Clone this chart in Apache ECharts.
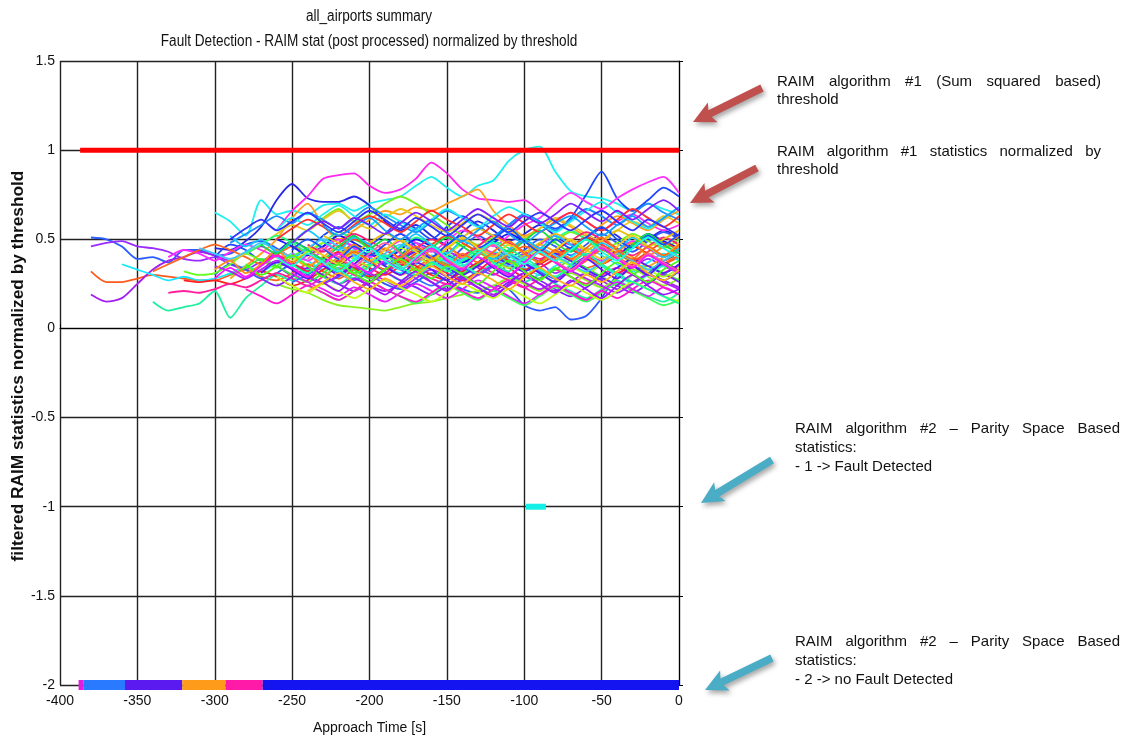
<!DOCTYPE html>
<html>
<head>
<meta charset="utf-8">
<script src="https://cdn.jsdelivr.net/npm/echarts@6/dist/echarts.min.js"></script>
<style>
  html, body { margin: 0; padding: 0; background: #ffffff; }
  #chart { width: 1126px; height: 740px; }
</style>
</head>
<body>
<div id="chart"></div>
<script>
// Approach time grid [s]; every trace ends at touchdown (0 s) and starts where its data begins.
const approachTime = [-390, -380, -370, -360, -350, -340, -330, -320, -310, -300,
  -290, -280, -270, -260, -250, -240, -230, -220, -210, -200,
  -190, -180, -170, -160, -150, -140, -130, -120, -110, -100,
  -90, -80, -70, -60, -50, -40, -30, -20, -10, 0];

// RAIM #1 statistics normalized by threshold, one array per approach
const trace01 = [0.51, 0.50, 0.46, 0.39, 0.40, 0.37, 0.44, 0.44, 0.41, 0.42, 0.47, 0.49, 0.45, 0.40, 0.44, 0.38, 0.42, 0.47, 0.43, 0.36, 0.41, 0.48, 0.44, 0.38, 0.45, 0.52, 0.47, 0.40, 0.44, 0.50, 0.46, 0.41, 0.47, 0.53, 0.48, 0.43, 0.49, 0.54, 0.50];
const trace02 = [0.46, 0.48, 0.49, 0.46, 0.45, 0.43, 0.39, 0.38, 0.40, 0.36, 0.33, 0.37, 0.35, 0.30, 0.34, 0.40, 0.36, 0.31, 0.35, 0.41, 0.38, 0.33, 0.37, 0.43, 0.39, 0.34, 0.30, 0.36, 0.42, 0.37, 0.31, 0.35, 0.40, 0.36, 0.30, 0.34, 0.39, 0.35, 0.31];
const trace03 = [0.32, 0.26, 0.26, 0.28, 0.30, 0.29, 0.28, 0.27, 0.27, 0.30, 0.33, 0.29, 0.27, 0.31, 0.36, 0.32, 0.28, 0.33, 0.38, 0.35, 0.30, 0.34, 0.39, 0.36, 0.31, 0.36, 0.41, 0.37, 0.33, 0.38, 0.43, 0.39, 0.34, 0.37, 0.42, 0.38, 0.33, 0.36, 0.40];
const trace04 = [0.19, 0.15, 0.17, 0.25, 0.33, 0.38, 0.40, 0.43, 0.41, 0.38, 0.42, 0.46, 0.41, 0.36, 0.33, 0.29, 0.25, 0.28, 0.24, 0.21, 0.25, 0.30, 0.26, 0.22, 0.27, 0.23, 0.19, 0.24, 0.29, 0.25, 0.21, 0.26, 0.31, 0.27, 0.22, 0.26, 0.30, 0.27, 0.23];
const trace05 = [0.15, 0.10, 0.12, 0.14, 0.21, 0.06, 0.17, 0.24, 0.30, 0.27, 0.33, 0.29, 0.25, 0.31, 0.36, 0.32, 0.27, 0.32, 0.37, 0.33, 0.28, 0.31, 0.36, 0.30, 0.26, 0.30, 0.25, 0.21, 0.17, 0.22, 0.27, 0.22, 0.18, 0.15, 0.20];
const trace06 = [0.36, 0.33, 0.30, 0.27, 0.29, 0.27, 0.28, 0.31, 0.35, 0.32, 0.37, 0.42, 0.38, 0.33, 0.39, 0.44, 0.40, 0.35, 0.31, 0.36, 0.41, 0.37, 0.32, 0.37, 0.43, 0.39, 0.34, 0.30, 0.35, 0.40, 0.45, 0.41, 0.36, 0.32, 0.37, 0.42, 0.38];
const trace07 = [0.65, 0.60, 0.52, 0.72, 0.64, 0.66, 0.64, 0.69, 0.70, 0.66, 0.70, 0.72, 0.74, 0.80, 0.85, 0.79, 0.74, 0.80, 0.83, 0.94, 1.00, 1.02, 0.88, 0.77, 0.74, 0.73, 0.70, 0.66, 0.70, 0.67, 0.64];
const trace08 = [0.45, 0.44, 0.49, 0.57, 0.72, 0.81, 0.73, 0.71, 0.71, 0.74, 0.69, 0.60, 0.55, 0.58, 0.52, 0.47, 0.54, 0.60, 0.55, 0.49, 0.53, 0.58, 0.52, 0.47, 0.51, 0.56, 0.52, 0.46, 0.50, 0.55, 0.51];
const trace09 = [0.55, 0.66, 0.74, 0.84, 0.86, 0.87, 0.80, 0.76, 0.78, 0.84, 0.93, 0.87, 0.78, 0.73, 0.72, 0.71, 0.72, 0.66, 0.61, 0.65, 0.60, 0.55, 0.60, 0.64, 0.59, 0.55, 0.58];
const trace10 = [0.30, 0.36, 0.33, 0.28, 0.31, 0.36, 0.30, 0.26, 0.29, 0.34, 0.30, 0.25, 0.22, 0.26, 0.31, 0.27, 0.22, 0.20, 0.24, 0.22, 0.13, 0.10, 0.12, 0.05, 0.07, 0.17, 0.30, 0.35, 0.31, 0.27, 0.32];
const trace11 = [0.25, 0.22, 0.20, 0.16, 0.13, 0.12, 0.11, 0.10, 0.12, 0.14, 0.15, 0.17, 0.19, 0.21, 0.24, 0.28, 0.25, 0.21, 0.27, 0.31, 0.27, 0.23, 0.28, 0.33, 0.29, 0.24, 0.28];
const trace12 = [0.40, 0.47, 0.44, 0.38, 0.43, 0.49, 0.45, 0.52, 0.57, 0.52, 0.47, 0.53, 0.60, 0.56, 0.50, 0.57, 0.63, 0.58, 0.52, 0.58, 0.64, 0.60, 0.56, 0.62, 0.75, 0.88, 0.73, 0.66, 0.72, 0.79, 0.74];
const trace13 = [0.42, 0.38, 0.44, 0.50, 0.46, 0.41, 0.47, 0.53, 0.48, 0.43, 0.49, 0.55, 0.51, 0.46, 0.52, 0.58, 0.62, 0.70, 0.76, 0.71, 0.67, 0.73, 0.78, 0.82, 0.85, 0.76];
const trace14 = [0.28, 0.35, 0.42, 0.50, 0.62, 0.70, 0.58, 0.50, 0.55, 0.61, 0.66, 0.64, 0.68, 0.66, 0.70, 0.74, 0.78, 0.66, 0.58, 0.52, 0.56, 0.61, 0.57, 0.52, 0.58, 0.63, 0.59, 0.55, 0.61, 0.66];
const trace15 = [0.35, 0.42, 0.48, 0.55, 0.62, 0.67, 0.60, 0.64, 0.70, 0.74, 0.70, 0.64, 0.58, 0.52, 0.47, 0.51, 0.56, 0.50, 0.45, 0.49, 0.54, 0.50, 0.44, 0.48, 0.53, 0.49, 0.45, 0.50];
const trace16 = [0.27, 0.26, 0.27, 0.25, 0.28, 0.32, 0.29, 0.24, 0.27, 0.33, 0.38, 0.34, 0.29, 0.33, 0.39, 0.35, 0.30, 0.27, 0.32, 0.37, 0.42, 0.38, 0.33, 0.36, 0.41, 0.45, 0.40, 0.36, 0.41, 0.46, 0.42, 0.38, 0.43];
const trace17 = [0.40, 0.44, 0.42, 0.38, 0.43, 0.47, 0.44, 0.40, 0.36, 0.41, 0.46, 0.50, 0.45, 0.40, 0.44, 0.49, 0.45, 0.39, 0.35, 0.40, 0.46, 0.42, 0.37, 0.41, 0.47, 0.52, 0.47, 0.42, 0.38, 0.43, 0.49, 0.45, 0.40, 0.44];
const trace18 = [0.20, 0.21, 0.20, 0.22, 0.25, 0.23, 0.27, 0.31, 0.28, 0.24, 0.29, 0.34, 0.30, 0.26, 0.31, 0.36, 0.32, 0.28, 0.25, 0.30, 0.35, 0.31, 0.27, 0.23, 0.28, 0.33, 0.29, 0.25, 0.30, 0.34, 0.30, 0.26, 0.31, 0.35];
const trace19 = [0.32, 0.30, 0.31, 0.36, 0.42, 0.38, 0.34, 0.40, 0.45, 0.41, 0.36, 0.31, 0.35, 0.40, 0.37, 0.32, 0.36, 0.42, 0.47, 0.43, 0.38, 0.34, 0.39, 0.44, 0.40, 0.35, 0.31, 0.36, 0.41, 0.37, 0.33, 0.38, 0.43];
const trace20 = [0.32, 0.36, 0.40, 0.44, 0.47, 0.44, 0.40, 0.36, 0.41, 0.46, 0.42, 0.37, 0.33, 0.38, 0.43, 0.39, 0.34, 0.30, 0.35, 0.40, 0.36, 0.31, 0.35, 0.41, 0.46, 0.42, 0.37, 0.33, 0.38, 0.44, 0.40, 0.35, 0.31, 0.36, 0.41];
const trace21 = [0.38, 0.42, 0.47, 0.53, 0.58, 0.55, 0.61, 0.66, 0.60, 0.56, 0.62, 0.67, 0.63, 0.58, 0.54, 0.59, 0.64, 0.60, 0.55, 0.51, 0.56, 0.62, 0.58, 0.53, 0.49, 0.55, 0.60, 0.57, 0.63, 0.59];
const trace22 = [0.30, 0.34, 0.39, 0.35, 0.30, 0.26, 0.31, 0.37, 0.33, 0.28, 0.33, 0.39, 0.44, 0.40, 0.35, 0.31, 0.36, 0.41, 0.37, 0.32, 0.28, 0.33, 0.38, 0.34, 0.29, 0.25, 0.30, 0.35, 0.31, 0.27];
const trace23 = [0.42, 0.47, 0.52, 0.48, 0.43, 0.48, 0.54, 0.50, 0.45, 0.40, 0.45, 0.51, 0.47, 0.42, 0.38, 0.43, 0.49, 0.45, 0.40, 0.44, 0.50, 0.55, 0.50, 0.45, 0.41, 0.46, 0.52, 0.48, 0.44];
const trace24 = [0.48, 0.53, 0.58, 0.63, 0.59, 0.65, 0.61, 0.56, 0.62, 0.68, 0.63, 0.58, 0.54, 0.60, 0.66, 0.62, 0.57, 0.52, 0.58, 0.64, 0.60, 0.55, 0.61, 0.67, 0.63, 0.58, 0.64, 0.70, 0.65, 0.61];
const trace25 = [0.28, 0.24, 0.29, 0.34, 0.30, 0.25, 0.21, 0.26, 0.31, 0.27, 0.23, 0.19, 0.24, 0.29, 0.25, 0.21, 0.26, 0.31, 0.27, 0.22, 0.18, 0.23, 0.28, 0.24, 0.20, 0.25, 0.30, 0.26];
const trace26 = [0.36, 0.41, 0.37, 0.32, 0.37, 0.43, 0.39, 0.34, 0.30, 0.35, 0.40, 0.36, 0.31, 0.27, 0.32, 0.38, 0.34, 0.29, 0.34, 0.39, 0.44, 0.40, 0.35, 0.31, 0.36, 0.41, 0.37, 0.33];
const trace27 = [0.55, 0.62, 0.58, 0.64, 0.69, 0.63, 0.58, 0.64, 0.60, 0.55, 0.61, 0.67, 0.62, 0.57, 0.63, 0.68, 0.64, 0.59, 0.54, 0.60, 0.66, 0.71, 0.65, 0.60, 0.56, 0.62, 0.68];
const trace28 = [0.50, 0.46, 0.41, 0.46, 0.52, 0.48, 0.43, 0.39, 0.44, 0.50, 0.46, 0.41, 0.37, 0.42, 0.48, 0.53, 0.49, 0.44, 0.40, 0.45, 0.51, 0.47, 0.42, 0.47, 0.53, 0.49, 0.45];
const trace29 = [0.44, 0.40, 0.35, 0.40, 0.46, 0.42, 0.37, 0.33, 0.38, 0.43, 0.39, 0.45, 0.50, 0.46, 0.41, 0.36, 0.41, 0.47, 0.43, 0.38, 0.43, 0.49, 0.45, 0.40, 0.35, 0.40, 0.46];
const trace30 = [0.31, 0.26, 0.22, 0.18, 0.23, 0.19, 0.15, 0.20, 0.25, 0.21, 0.17, 0.22, 0.27, 0.23, 0.18, 0.14, 0.19, 0.24, 0.20, 0.16, 0.21, 0.26, 0.22, 0.18, 0.23, 0.19];
const trace31 = [0.38, 0.43, 0.48, 0.44, 0.39, 0.35, 0.40, 0.45, 0.41, 0.36, 0.41, 0.47, 0.43, 0.38, 0.34, 0.39, 0.44, 0.40, 0.35, 0.31, 0.36, 0.41, 0.37, 0.33, 0.29, 0.34];
const trace32 = [0.26, 0.30, 0.35, 0.31, 0.27, 0.32, 0.37, 0.33, 0.28, 0.24, 0.29, 0.34, 0.30, 0.35, 0.41, 0.37, 0.32, 0.28, 0.33, 0.39, 0.35, 0.30, 0.26, 0.31, 0.36, 0.32];
const trace33 = [0.47, 0.43, 0.48, 0.53, 0.49, 0.44, 0.40, 0.45, 0.50, 0.46, 0.41, 0.46, 0.52, 0.48, 0.43, 0.39, 0.44, 0.49, 0.54, 0.50, 0.45, 0.41, 0.46, 0.51, 0.47];
const trace34 = [0.24, 0.20, 0.16, 0.21, 0.26, 0.22, 0.18, 0.14, 0.19, 0.24, 0.20, 0.16, 0.21, 0.17, 0.13, 0.18, 0.23, 0.19, 0.15, 0.20, 0.25, 0.21, 0.17, 0.13, 0.16];
const trace35 = [0.52, 0.48, 0.43, 0.48, 0.53, 0.49, 0.44, 0.40, 0.45, 0.51, 0.56, 0.52, 0.47, 0.43, 0.48, 0.53, 0.49, 0.44, 0.49, 0.55, 0.51, 0.46, 0.50, 0.55];
const trace36 = [0.40, 0.36, 0.41, 0.37, 0.33, 0.38, 0.43, 0.39, 0.34, 0.30, 0.35, 0.40, 0.36, 0.32, 0.37, 0.42, 0.38, 0.33, 0.29, 0.34, 0.39, 0.35, 0.31, 0.36];
const trace37 = [0.34, 0.38, 0.43, 0.39, 0.34, 0.30, 0.35, 0.40, 0.36, 0.31, 0.36, 0.42, 0.38, 0.33, 0.29, 0.34, 0.39, 0.35, 0.30, 0.25, 0.30, 0.35, 0.31];
const trace38 = [0.45, 0.50, 0.46, 0.41, 0.37, 0.42, 0.47, 0.52, 0.48, 0.43, 0.39, 0.44, 0.49, 0.45, 0.40, 0.45, 0.51, 0.47, 0.42, 0.38, 0.43, 0.48, 0.44];
const trace39 = [0.35, 0.32, 0.28, 0.33, 0.38, 0.34, 0.29, 0.25, 0.30, 0.35, 0.31, 0.27, 0.23, 0.28, 0.33, 0.29, 0.25, 0.30, 0.35, 0.31, 0.26, 0.22, 0.27, 0.32, 0.28, 0.24, 0.20, 0.25, 0.30, 0.26, 0.22];
const trace40 = [0.45, 0.42, 0.39, 0.43, 0.48, 0.44, 0.40, 0.45, 0.50, 0.46, 0.41, 0.37, 0.42, 0.47, 0.43, 0.38, 0.34, 0.39, 0.44, 0.40, 0.35, 0.40, 0.45, 0.41, 0.36, 0.32, 0.37, 0.42, 0.38, 0.33, 0.38, 0.43];
const trace41 = [0.33, 0.38, 0.31, 0.36, 0.44, 0.37, 0.42, 0.35, 0.40, 0.47, 0.41, 0.45, 0.38, 0.33, 0.39, 0.46, 0.40, 0.44, 0.37, 0.42, 0.49, 0.43, 0.38, 0.45, 0.40, 0.36, 0.43, 0.48, 0.41, 0.46, 0.52];
const trace42 = [0.52, 0.46, 0.50, 0.43, 0.48, 0.55, 0.49, 0.44, 0.51, 0.47, 0.40, 0.46, 0.53, 0.47, 0.42, 0.49, 0.45, 0.39, 0.44, 0.50, 0.45, 0.52, 0.47, 0.41, 0.48, 0.44, 0.51, 0.46, 0.40, 0.45];
const trace43 = [0.22, 0.18, 0.14, 0.19, 0.24, 0.20, 0.16, 0.21, 0.26, 0.22, 0.18, 0.15, 0.20, 0.25, 0.21, 0.17, 0.22, 0.27, 0.23, 0.19, 0.24, 0.20, 0.16, 0.21, 0.17, 0.22, 0.27, 0.23, 0.19];
const trace44 = [0.47, 0.42, 0.49, 0.44, 0.39, 0.46, 0.52, 0.45, 0.50, 0.43, 0.38, 0.45, 0.51, 0.46, 0.41, 0.48, 0.43, 0.49, 0.55, 0.48, 0.43, 0.50, 0.45, 0.40, 0.47, 0.53, 0.47, 0.42];
const trace45 = [0.31, 0.37, 0.33, 0.28, 0.35, 0.30, 0.36, 0.42, 0.35, 0.30, 0.37, 0.33, 0.27, 0.34, 0.40, 0.34, 0.29, 0.36, 0.31, 0.26, 0.33, 0.39, 0.33, 0.28, 0.35, 0.30, 0.37, 0.32];
const trace46 = [0.50, 0.56, 0.61, 0.57, 0.52, 0.58, 0.63, 0.59, 0.54, 0.60, 0.66, 0.61, 0.57, 0.52, 0.58, 0.64, 0.59, 0.54, 0.60, 0.65, 0.60, 0.55, 0.61, 0.67, 0.62, 0.57, 0.63];
const trace47 = [0.29, 0.24, 0.20, 0.25, 0.21, 0.17, 0.22, 0.27, 0.23, 0.19, 0.15, 0.20, 0.25, 0.21, 0.17, 0.22, 0.18, 0.14, 0.19, 0.24, 0.20, 0.16, 0.21, 0.26, 0.22, 0.18, 0.15];
const trace48 = [0.44, 0.50, 0.45, 0.39, 0.46, 0.41, 0.47, 0.53, 0.46, 0.40, 0.47, 0.52, 0.45, 0.50, 0.56, 0.49, 0.43, 0.50, 0.45, 0.51, 0.57, 0.50, 0.45, 0.52, 0.47, 0.53];
const trace49 = [0.36, 0.31, 0.38, 0.33, 0.28, 0.35, 0.41, 0.35, 0.30, 0.37, 0.32, 0.38, 0.44, 0.37, 0.32, 0.39, 0.34, 0.29, 0.36, 0.42, 0.36, 0.31, 0.26, 0.22, 0.18, 0.14];
const trace50 = [0.39, 0.45, 0.40, 0.35, 0.42, 0.48, 0.42, 0.37, 0.44, 0.39, 0.34, 0.41, 0.47, 0.41, 0.36, 0.43, 0.38, 0.33, 0.40, 0.46, 0.40, 0.35, 0.42, 0.37, 0.32];
const trace51 = [0.46, 0.41, 0.36, 0.43, 0.38, 0.44, 0.50, 0.43, 0.38, 0.45, 0.51, 0.45, 0.40, 0.47, 0.42, 0.37, 0.44, 0.50, 0.44, 0.39, 0.46, 0.52, 0.46, 0.41, 0.48];
const trace52 = [0.26, 0.21, 0.28, 0.24, 0.19, 0.26, 0.32, 0.26, 0.21, 0.28, 0.23, 0.18, 0.25, 0.31, 0.25, 0.20, 0.27, 0.22, 0.17, 0.24, 0.30, 0.24, 0.19, 0.22];
const trace53 = [0.58, 0.52, 0.57, 0.62, 0.55, 0.50, 0.56, 0.61, 0.54, 0.49, 0.55, 0.60, 0.53, 0.48, 0.54, 0.59, 0.63, 0.57, 0.52, 0.58, 0.63, 0.57, 0.62, 0.68];
const trace54 = [0.37, 0.43, 0.38, 0.33, 0.40, 0.46, 0.40, 0.35, 0.42, 0.37, 0.43, 0.49, 0.42, 0.37, 0.44, 0.39, 0.45, 0.51, 0.44, 0.39, 0.46, 0.41, 0.47];
const trace55 = [0.50, 0.56, 0.61, 0.55, 0.60, 0.65, 0.59, 0.54, 0.60, 0.66, 0.61, 0.56, 0.62, 0.57, 0.52, 0.58, 0.64, 0.59, 0.54, 0.60, 0.65, 0.60, 0.55, 0.61, 0.66, 0.60, 0.55, 0.61, 0.57, 0.52];
const trace56 = [0.36, 0.30, 0.35, 0.41, 0.35, 0.29, 0.36, 0.31, 0.26, 0.33, 0.39, 0.33, 0.28, 0.35, 0.30, 0.25, 0.32, 0.38, 0.32, 0.27, 0.34, 0.29, 0.24, 0.31, 0.37, 0.31, 0.26, 0.33, 0.38];
const trace57 = [0.28, 0.34, 0.29, 0.35, 0.41, 0.34, 0.29, 0.36, 0.42, 0.36, 0.31, 0.38, 0.33, 0.39, 0.45, 0.38, 0.33, 0.40, 0.35, 0.30, 0.37, 0.43, 0.37, 0.32, 0.39, 0.45, 0.39, 0.34, 0.41, 0.36, 0.31];
const trace58 = [0.40, 0.35, 0.42, 0.37, 0.32, 0.39, 0.45, 0.38, 0.33, 0.40, 0.46, 0.40, 0.35, 0.42, 0.48, 0.41, 0.36, 0.43, 0.38, 0.44, 0.50, 0.43, 0.38, 0.45, 0.51, 0.45, 0.40];
const trace59 = [0.48, 0.55, 0.60, 0.56, 0.62, 0.58, 0.53, 0.59, 0.65, 0.60, 0.55, 0.61, 0.67, 0.62, 0.57, 0.63, 0.59, 0.64, 0.70, 0.65, 0.60, 0.66, 0.61, 0.67, 0.72, 0.66];
const trace60 = [0.21, 0.26, 0.31, 0.26, 0.22, 0.28, 0.24, 0.30, 0.35, 0.29, 0.25, 0.31, 0.27, 0.22, 0.29, 0.34, 0.28, 0.24, 0.30, 0.26, 0.32, 0.37, 0.31, 0.27, 0.33];

// RAIM #1 threshold (normalized)
const thresholdTimes = [-387, 0];
const thresholdLevel = 1;

// RAIM #2 parity-space flag: -1 = fault detected, -2 = no fault detected
const faultDetectedTimes = [-99, -86];
const faultDetectedFlag = -1;
const noFaultStart = [-388, -385, -358, -321, -293, -269];
const noFaultEnd = [-385, -358, -321, -293, -269, 0];
const noFaultFlag = -2;

// Axis ticks
const xTickMin = -400, xTickMax = 0, xTickStep = 50;
const yTickMin = -2, yTickMax = 1.5, yTickStep = 0.5;

const traces = [trace01, trace02, trace03, trace04, trace05, trace06, trace07, trace08, trace09, trace10,
  trace11, trace12, trace13, trace14, trace15, trace16, trace17, trace18, trace19, trace20,
  trace21, trace22, trace23, trace24, trace25, trace26, trace27, trace28, trace29, trace30,
  trace31, trace32, trace33, trace34, trace35, trace36, trace37, trace38, trace39, trace40,
  trace41, trace42, trace43, trace44, trace45, trace46, trace47, trace48, trace49, trace50,
  trace51, trace52, trace53, trace54, trace55, trace56, trace57, trace58, trace59, trace60];

const traceColors = ['#2a5cff', '#9a2cff', '#ff5a1e', '#a41ef0', '#1ef0a0', '#1ee6ff', '#1ef0f0', '#2828e6', '#ff28f0', '#2a5aff',
  '#8cf01e', '#1e46ff', '#ff32ff', '#ffa01e', '#78f01e', '#ff1e1e', '#ff28ff', '#ff1ea0', '#64ff1e', '#ff641e',
  '#e6c81e', '#32f032', '#1eff82', '#1e8cff', '#821eff', '#ff1e46', '#1ef0f0', '#1414ff', '#ffa014', '#e61eff',
  '#aaff1e', '#3270ff', '#ff1e78', '#3cff5a', '#e6be14', '#501eff', '#1effc8', '#ff461e', '#b41eff', '#3cc8ff',
  '#ff8c14', '#14c8ff', '#ff14d0', '#14e046', '#6014ff', '#ff3030', '#c0ff14', '#1450ff', '#14ffa0', '#ff60a0',
  '#f0cc14', '#a014ff', '#14a0ff', '#ff7014', '#3030ff', '#46ff14', '#ff14ff', '#14ffe0', '#8020ff', '#ffb014'];
const noFaultColors = ['#e01ee0', '#2a7aff', '#5a1af0', '#ff9b1a', '#ff1aa8', '#1414f0'];

const SANS = '"Liberation Sans", Arial, sans-serif';

// Each trace ends at 0 s; place it on the tail of the time grid.
function alignToEnd(values) {
  const offset = approachTime.length - values.length;
  return values.map((v, i) => [approachTime[offset + i], v]);
}

const series = [];
traces.forEach((values, i) => {
  series.push({
    type: 'line', data: alignToEnd(values), showSymbol: false, smooth: 0.25,
    lineStyle: { color: traceColors[i], width: 1.8 }, silent: true, z: 2
  });
});
noFaultStart.forEach((s, i) => {
  series.push({
    type: 'line', data: [[s, noFaultFlag], [noFaultEnd[i], noFaultFlag]], showSymbol: false,
    lineStyle: { color: noFaultColors[i], width: 10, cap: 'butt' }, silent: true, z: 3
  });
});
series.push({
  type: 'line', data: faultDetectedTimes.map(t => [t, faultDetectedFlag]), showSymbol: false,
  lineStyle: { color: '#14f0e8', width: 6, cap: 'butt' }, silent: true, z: 3
});
series.push({
  type: 'line', data: thresholdTimes.map(t => [t, thresholdLevel]), showSymbol: false,
  lineStyle: { color: '#ff0000', width: 5, cap: 'butt' }, silent: true, z: 4
});

// ---- annotations on the right: justified notes with arrows ----
const measureCtx = document.createElement('canvas').getContext('2d');
const NOTE_FONT_SIZE = 15;
function textWidth(str) {
  measureCtx.font = NOTE_FONT_SIZE + 'px ' + SANS;
  return measureCtx.measureText(str).width;
}
const notes = [
  { x: 777, y: 82, width: 324, gap: 18, lines: ['RAIM algorithm #1 (Sum squared based)', 'threshold'] },
  { x: 777, y: 152, width: 324, gap: 18, lines: ['RAIM algorithm #1 statistics normalized by', 'threshold'] },
  { x: 795, y: 429, width: 325, gap: 19, lines: ['RAIM algorithm #2 \u2013 Parity Space Based', 'statistics:', '- 1 -> Fault Detected'] },
  { x: 795, y: 642, width: 325, gap: 19, lines: ['RAIM algorithm #2 \u2013 Parity Space Based', 'statistics:', '- 2 -> no Fault Detected'] }
];
const graphics = [];
notes.forEach(note => {
  note.lines.forEach((line, li) => {
    const y = note.y + li * note.gap;
    const textStyle = { fontSize: NOTE_FONT_SIZE, fontFamily: SANS, fill: '#111', verticalAlign: 'middle', align: 'left' };
    if (li === 0) {
      const words = line.split(' ');
      const total = words.reduce((s, w) => s + textWidth(w), 0);
      const space = (note.width - total) / (words.length - 1);
      let cx = note.x;
      words.forEach(w => {
        graphics.push({ type: 'text', x: cx, y: y, style: Object.assign({ text: w }, textStyle) });
        cx += textWidth(w) + space;
      });
    } else {
      graphics.push({ type: 'text', x: note.x, y: y, style: Object.assign({ text: line }, textStyle) });
    }
  });
});

function arrow(tail, tip, color) {
  const dx = tip[0] - tail[0], dy = tip[1] - tail[1];
  const len = Math.hypot(dx, dy);
  const ux = dx / len, uy = dy / len;
  const nx = -uy, ny = ux;
  const w = 3.8, hw = 11, hl = 19;
  const bx = tip[0] - ux * hl, by = tip[1] - uy * hl;
  return {
    type: 'polygon',
    shape: { points: [
      [tail[0] + nx * w, tail[1] + ny * w], [bx + nx * w, by + ny * w], [bx + nx * hw - ux * 3, by + ny * hw - uy * 3],
      [tip[0], tip[1]],
      [bx - nx * hw - ux * 3, by - ny * hw - uy * 3], [bx - nx * w, by - ny * w], [tail[0] - nx * w, tail[1] - ny * w]
    ] },
    style: { fill: color, shadowBlur: 5, shadowColor: 'rgba(0,0,0,0.35)', shadowOffsetX: 2, shadowOffsetY: 3 }
  };
}
graphics.push(arrow([762, 88], [693, 122], '#c0504d'));
graphics.push(arrow([757, 168], [690, 203], '#c0504d'));
graphics.push(arrow([772, 460], [701, 503], '#4bacc6'));
graphics.push(arrow([772, 658], [705, 690], '#4bacc6'));

// chart title (condensed face) and vertical axis title
graphics.push({
  type: 'text', x: 369, y: 17, scaleX: 0.85,
  style: { text: 'all_airports summary', fontSize: 16, fontFamily: SANS, fill: '#111', align: 'center', verticalAlign: 'middle' }
});
graphics.push({
  type: 'text', x: 369, y: 42, scaleX: 0.85,
  style: { text: 'Fault Detection - RAIM stat (post processed) normalized by threshold', fontSize: 16, fontFamily: SANS,
    fill: '#111', align: 'center', verticalAlign: 'middle' }
});
graphics.push({
  type: 'text', x: 19, y: 366, rotation: Math.PI / 2, scaleX: 1.08,
  style: { text: 'filtered RAIM statistics normalized by threshold', fontSize: 16, fontWeight: 'bold',
    fontFamily: SANS, fill: '#111', align: 'center', verticalAlign: 'middle' }
});

const chart = echarts.init(document.getElementById('chart'), null, { renderer: 'canvas' });
chart.setOption({
  animation: false,
  backgroundColor: '#ffffff',
  grid: { left: 60, top: 61, width: 619, height: 628, containLabel: false },
  xAxis: {
    type: 'value', min: xTickMin, max: xTickMax, interval: xTickStep,
    name: 'Approach Time [s]', nameLocation: 'middle', nameGap: 36,
    nameTextStyle: { fontSize: 14, fontFamily: SANS, color: '#111' },
    axisLine: { show: true, lineStyle: { color: '#000', width: 1 } },
    axisTick: { show: true, inside: true, length: 4, lineStyle: { color: '#000' } },
    axisLabel: { fontSize: 14, fontFamily: SANS, color: '#111', margin: 9 },
    splitLine: { show: true, lineStyle: { color: '#222', width: 1.4 } }
  },
  yAxis: {
    type: 'value', min: yTickMin, max: yTickMax, interval: yTickStep,
    axisLine: { show: true, lineStyle: { color: '#000', width: 1 } },
    axisTick: { show: true, inside: true, length: 4, lineStyle: { color: '#000' } },
    axisLabel: { fontSize: 14, fontFamily: SANS, color: '#111', margin: 5 },
    splitLine: { show: true, lineStyle: { color: '#222', width: 1.4 } }
  },
  series: series,
  graphic: graphics
});
</script>
</body>
</html>
